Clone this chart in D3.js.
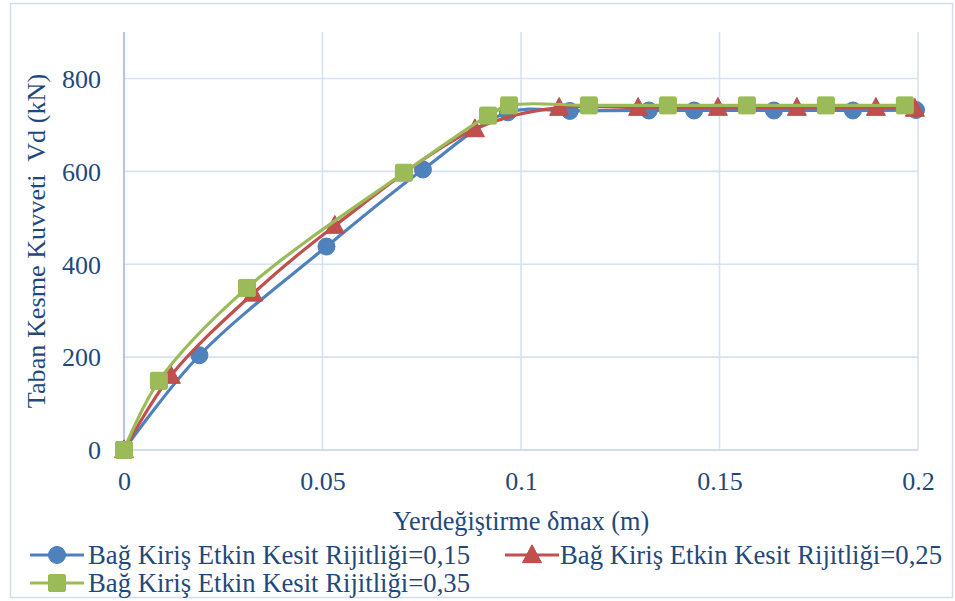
<!DOCTYPE html>
<html>
<head>
<meta charset="utf-8">
<script src="https://cdn.jsdelivr.net/npm/d3@7/dist/d3.min.js"></script>
<style>
  html, body { margin: 0; padding: 0; background: #fff; }
  svg { display: block; }
</style>
</head>
<body>
<svg id="chart" width="955" height="601"></svg>
<script>
// ---- data ----
const seriesNames = [
  "Bağ Kiriş Etkin Kesit Rijitliği=0,15",
  "Bağ Kiriş Etkin Kesit Rijitliği=0,25",
  "Bağ Kiriş Etkin Kesit Rijitliği=0,35"
];
const blueX  = [0, 0.019, 0.051, 0.0753, 0.0967, 0.1123, 0.1322, 0.1436, 0.1637, 0.1836, 0.1995];
const blueY  = [0, 204, 438, 604, 727, 730, 731, 731, 731, 731, 732];
const redX   = [0, 0.0118, 0.0325, 0.0531, 0.0884, 0.1096, 0.1295, 0.1496, 0.1695, 0.1894, 0.1992];
const redY   = [0, 160, 337, 483, 691, 737, 737, 737, 737, 737, 735];
const greenX = [0, 0.0088, 0.031, 0.0705, 0.0917, 0.097, 0.1171, 0.137, 0.1569, 0.1768, 0.1967];
const greenY = [0, 149, 349, 597, 720, 742, 742, 742, 742, 742, 742];
const xTicks = [0, 0.05, 0.1, 0.15, 0.2];
const xTickLabels = ["0", "0.05", "0.1", "0.15", "0.2"];
const yTicks = [0, 200, 400, 600, 800];
const xTitle = "Yerdeğiştirme δmax (m)";
const yTitle = "Taban Kesme Kuvveti  Vd (kN)";

// ---- styling ----
const FONT = "'Liberation Serif', 'Times New Roman', Tinos, serif";
const TXT = "#1F497D";
const colors = ["#4F81BD", "#C0504D", "#9BBB59"];
const strokes = ["#4A7EBB", "#BE4B48", "#98B954"];
const shapes = ["circle", "triangle", "square"];

const svg = d3.select("#chart");
const pL = 124, pR = 918, pT = 32, pB = 450;

const x = d3.scaleLinear().domain([0, 0.2]).range([pL, pR]);
const y = d3.scaleLinear().domain([0, 900]).range([pB, pT]);

function styleText(sel, size) {
  sel.style("font-family", FONT).style("font-size", size + "px").style("fill", TXT);
}

// chart border
svg.append("rect").attr("x", 10.5).attr("y", 3.5).attr("width", 942).attr("height", 594)
  .attr("fill", "#fff").attr("stroke", "#D3DEEC").attr("stroke-width", 1.5);

// gridlines
const grid = svg.append("g");
grid.selectAll(".hg").data(yTicks.filter(d => d > 0)).enter().append("line")
  .attr("x1", pL).attr("x2", pR).attr("y1", d => y(d)).attr("y2", d => y(d))
  .attr("stroke", "#D6E2F2").attr("stroke-width", 1.6);
grid.selectAll(".vg").data(xTicks.filter(d => d > 0)).enter().append("line")
  .attr("x1", d => x(d)).attr("x2", d => x(d)).attr("y1", pT).attr("y2", pB)
  .attr("stroke", "#D6E2F2").attr("stroke-width", 1.6);
// axes lines
svg.append("line").attr("x1", pL).attr("x2", pR).attr("y1", y(0)).attr("y2", y(0))
  .attr("stroke", "#D0DDF0").attr("stroke-width", 1.8);
svg.append("line").attr("x1", x(0)).attr("x2", x(0)).attr("y1", pT).attr("y2", pB)
  .attr("stroke", "#A7C2E8").attr("stroke-width", 1.8);

// y axis tick labels
const yAxis = d3.axisLeft(y).tickValues(yTicks).tickSize(0).tickPadding(0).tickFormat(d3.format("d"));
const yg = svg.append("g").attr("transform", `translate(${101},0)`).call(yAxis);
yg.select(".domain").remove();
yg.selectAll("text").attr("dy", "0.34em").call(styleText, 26);

// x axis tick labels
const xAxis = d3.axisBottom(x).tickValues(xTicks).tickSize(0).tickPadding(0)
  .tickFormat((d, i) => xTickLabels[i]);
const xg = svg.append("g").attr("transform", `translate(0,${490})`).call(xAxis);
xg.select(".domain").remove();
xg.selectAll("text").attr("dy", 0).call(styleText, 26);

// titles
svg.append("text").attr("x", (pL + pR) / 2).attr("y", 530).attr("text-anchor", "middle")
  .text(xTitle).call(styleText, 26.3);
svg.append("text").attr("transform", `translate(45,241) rotate(-90)`).attr("text-anchor", "middle")
  .style("white-space", "pre").text(yTitle).call(styleText, 26.2);

// marker drawing
function drawMarker(g, shape, cx, cy, i) {
  if (shape === "circle") {
    g.append("circle").attr("cx", cx).attr("cy", cy).attr("r", 8.5)
      .attr("fill", colors[i]).attr("stroke", strokes[i]).attr("stroke-width", 1);
  } else if (shape === "triangle") {
    const h = 17, w = 19;
    g.append("path").attr("d", `M${cx},${cy - h * 0.6} L${cx + w / 2},${cy + h * 0.45} L${cx - w / 2},${cy + h * 0.45} Z`)
      .attr("fill", colors[i]).attr("stroke", strokes[i]).attr("stroke-width", 1);
  } else {
    const a = 17;
    g.append("rect").attr("x", cx - a / 2).attr("y", cy - a / 2).attr("width", a).attr("height", a)
      .attr("rx", 1.5).attr("fill", colors[i]).attr("stroke", strokes[i]).attr("stroke-width", 1);
  }
}

const allX = [blueX, redX, greenX];
const allY = [blueY, redY, greenY];
const line = d3.line().x(d => x(d[0])).y(d => y(d[1])).curve(d3.curveCatmullRom.alpha(0.5));

allX.forEach((xs, i) => {
  const pts = xs.map((v, j) => [v, allY[i][j]]);
  const g = svg.append("g");
  g.append("path").attr("d", line(pts)).attr("fill", "none")
    .attr("stroke", colors[i]).attr("stroke-width", 3.2).attr("stroke-linejoin", "round");
  pts.forEach(p => drawMarker(g, shapes[i], x(p[0]), y(p[1]), i));
});

// legend
const legendItems = [
  { i: 0, lx: 30, ly: 555, tx: 88, ty: 564 },
  { i: 1, lx: 505, ly: 555, tx: 560, ty: 564 },
  { i: 2, lx: 30, ly: 583, tx: 88, ty: 592 }
];
legendItems.forEach(it => {
  const g = svg.append("g");
  g.append("line").attr("x1", it.lx).attr("x2", it.lx + 54).attr("y1", it.ly).attr("y2", it.ly)
    .attr("stroke", colors[it.i]).attr("stroke-width", 3.2);
  drawMarker(g, shapes[it.i], it.lx + 27, it.ly, it.i);
  g.append("text").attr("x", it.tx).attr("y", it.ty).text(seriesNames[it.i]).call(styleText, 26.7);
});
</script>
</body>
</html>
